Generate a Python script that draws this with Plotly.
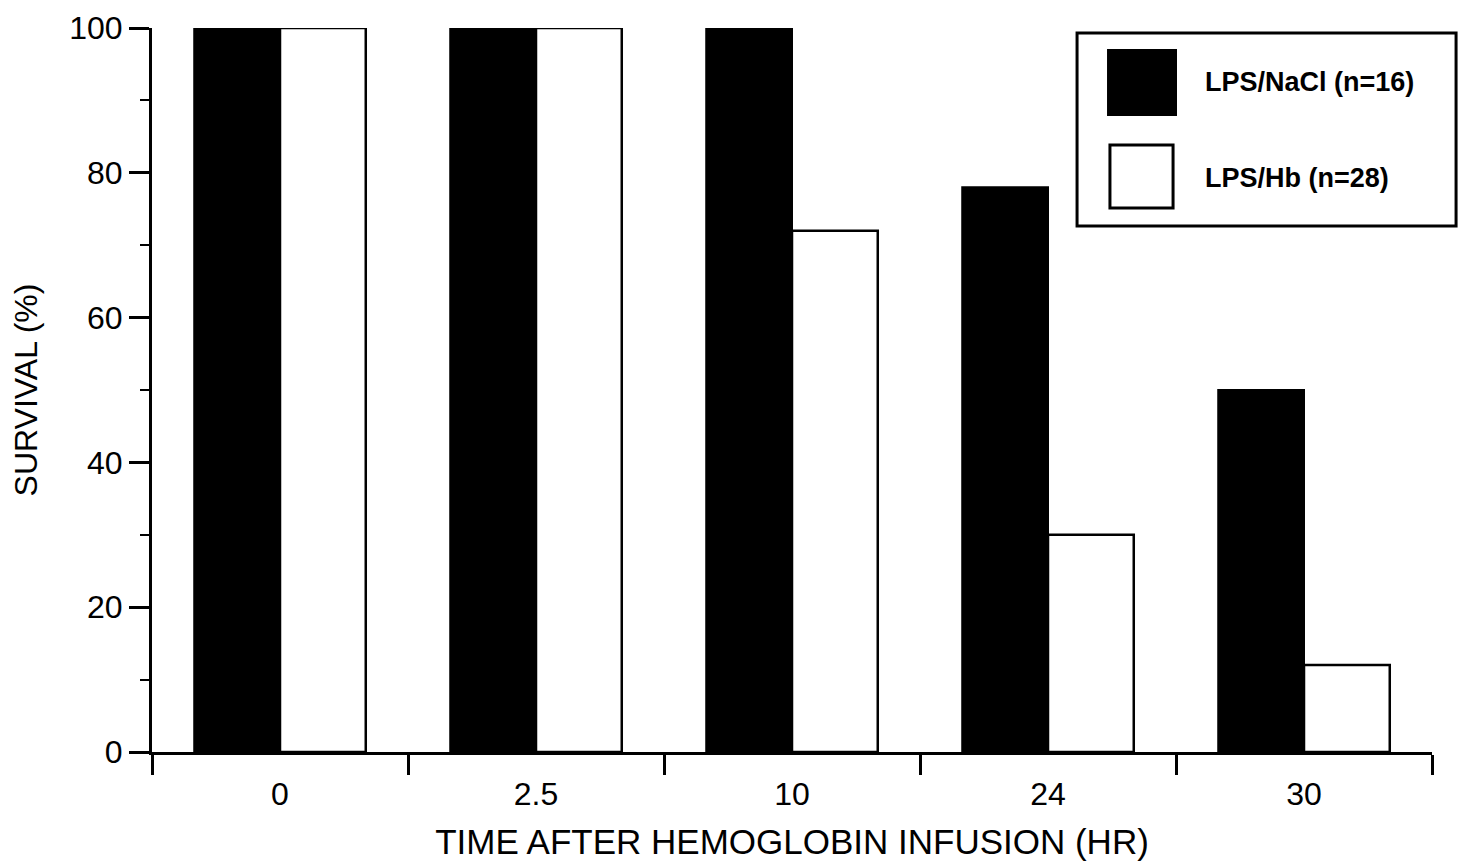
"""Survival after hemoglobin infusion: grouped bar chart."""

import plotly.graph_objects as go

# Data
TIME_LABELS = ["0", "2.5", "10", "24", "30"]
NACL_SURVIVAL = [100, 100, 100, 78, 50]
HB_SURVIVAL = [100, 100, 72, 30, 12]

NACL_NAME = "LPS/NaCl (n=16)"
HB_NAME = "LPS/Hb (n=28)"

FONT = "Liberation Sans, Arial, Helvetica, sans-serif"
INK = "#000000"

fig = go.Figure()
fig.add_trace(go.Bar(
    name=NACL_NAME,
    x=TIME_LABELS,
    y=NACL_SURVIVAL,
    marker=dict(color=INK, line=dict(color=INK, width=2)),
))
fig.add_trace(go.Bar(
    name=HB_NAME,
    x=TIME_LABELS,
    y=HB_SURVIVAL,
    marker=dict(color="#ffffff", line=dict(color=INK, width=2.5)),
))

# page body adds an 8px margin, so the plot margins are trimmed to compensate
fig.update_layout(
    width=1468,
    height=866,
    paper_bgcolor="#ffffff",
    plot_bgcolor="#ffffff",
    font=dict(family=FONT, size=32, color=INK),
    margin=dict(l=144, r=44, t=20, b=122),
    barmode="group",
    bargap=0.33,
    bargroupgap=0,
    showlegend=False,
)

fig.update_xaxes(
    type="category",
    automargin=False,
    tickson="boundaries",
    ticks="outside",
    ticklen=20,
    tickwidth=2.5,
    tickcolor=INK,
    ticklabelstandoff=12,
    showline=True,
    linewidth=3,
    linecolor=INK,
    showgrid=False,
    zeroline=False,
    tickfont=dict(size=32),
    title=dict(text="TIME AFTER HEMOGLOBIN INFUSION (HR)", font=dict(size=35), standoff=19),
)
fig.update_yaxes(
    range=[0, 100],
    automargin=False,
    tickvals=[0, 20, 40, 60, 80, 100],
    ticks="outside",
    ticklen=20,
    tickwidth=2.5,
    tickcolor=INK,
    minor=dict(dtick=10, ticks="outside", ticklen=9, tickwidth=2, tickcolor=INK),
    showline=True,
    linewidth=3,
    linecolor=INK,
    showgrid=False,
    zeroline=False,
    tickfont=dict(size=32),
    title=dict(text="SURVIVAL (%)", font=dict(size=32), standoff=24),
)

# Boxed legend with large swatches, as in the original figure
fig.add_shape(type="rect", xref="paper", yref="paper",
              x0=0.7227, x1=1.0188, y0=0.7265, y1=0.993,
              line=dict(color=INK, width=3), fillcolor="rgba(0,0,0,0)")
fig.add_shape(type="rect", xref="paper", yref="paper",
              x0=0.7469, x1=0.80, y0=0.8798, y1=0.9696,
              line=dict(color=INK, width=2), fillcolor=INK)
fig.add_shape(type="rect", xref="paper", yref="paper",
              x0=0.7484, x1=0.7977, y0=0.7514, y1=0.8384,
              line=dict(color=INK, width=3), fillcolor="#ffffff")
for name, y in [(NACL_NAME, 0.9254), (HB_NAME, 0.7925)]:
    fig.add_annotation(text=f"<b>{name}</b>", xref="paper", yref="paper",
                       x=0.821, y=y, xanchor="left", yanchor="middle",
                       showarrow=False, font=dict(size=27, color=INK))

fig.write_html("out.html")
